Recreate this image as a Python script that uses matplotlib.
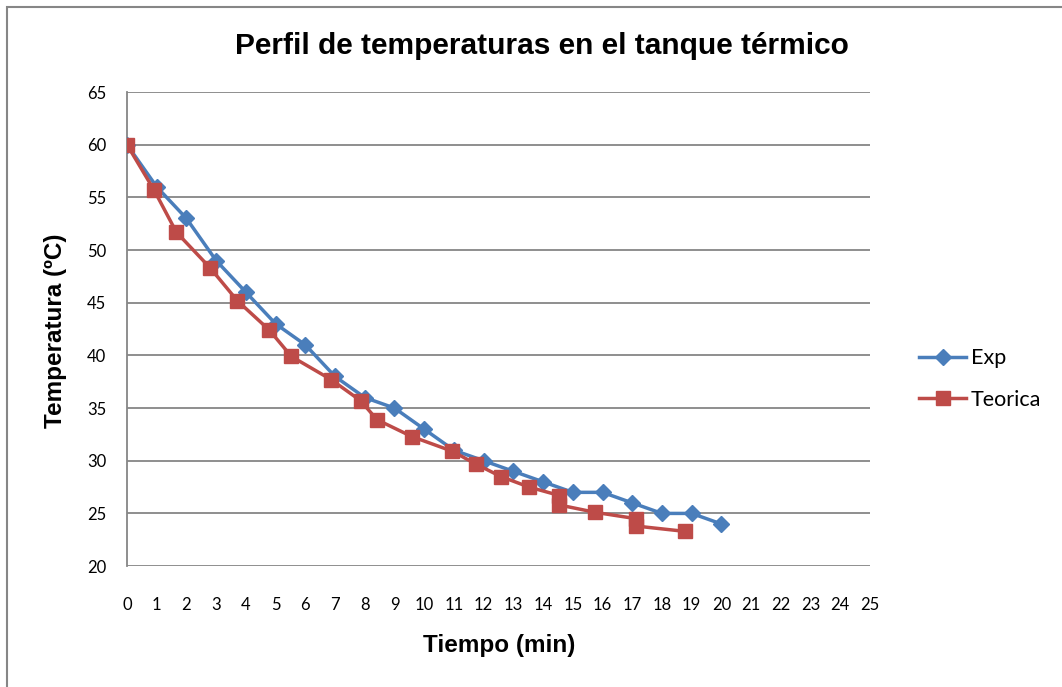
import matplotlib.pyplot as plt
from matplotlib.patches import Rectangle

# Datos experimentales (cada minuto)
t_exp = list(range(0, 21))
temp_exp = [60, 56, 53, 49, 46, 43, 41, 38, 36, 35, 33, 31, 30, 29, 28, 27, 27, 26, 25, 25, 24]

# Curva teórica
t_teo = [0, 0.91, 1.66, 2.80, 3.71, 4.79, 5.53, 6.87, 7.86, 8.41, 9.58, 10.95,
         11.73, 12.58, 13.53, 14.55, 14.55, 15.76, 17.13, 17.13, 18.76]
temp_teo = [60, 55.7, 51.7, 48.3, 45.2, 42.4, 39.9, 37.7, 35.7, 33.9, 32.3, 30.9,
            29.7, 28.5, 27.5, 26.7, 25.8, 25.1, 24.5, 23.8, 23.3]

x_ticks = list(range(0, 26))
y_ticks = list(range(20, 66, 5))

fig = plt.figure(figsize=(10.62, 6.87), dpi=100)
ax = fig.add_axes([0.1196, 0.176, 0.6996, 0.690])

ax.plot(t_exp, temp_exp, color='#4A7EBB', linewidth=2.5, marker='D',
        markersize=8, label='Exp', zorder=3)
ax.plot(t_teo, temp_teo, color='#BE4B48', linewidth=2.5, marker='s',
        markersize=10, label='Teorica', zorder=4)

ax.set_xlim(0, 25)
ax.set_ylim(20, 65)
ax.set_xticks(x_ticks)
ax.set_yticks(y_ticks)
ax.tick_params(axis='both', length=0, labelsize=12)
for lbl in ax.get_xticklabels() + ax.get_yticklabels():
    lbl.set_family('Lato')
ax.tick_params(axis='x', pad=22)
ax.tick_params(axis='y', pad=15)

ax.grid(axis='y', color='#868686', linewidth=1.3)
ax.set_axisbelow(True)
for s in ['top', 'right', 'bottom']:
    ax.spines[s].set_visible(False)
ax.spines['left'].set_color('#868686')
ax.spines['left'].set_linewidth(1.3)

fig.text(0.510, 0.933, 'Perfil de temperaturas en el tanque térmico',
         ha='center', va='center', fontsize=21.5, fontweight='bold',
         family='Liberation Sans')
fig.text(0.470, 0.061, 'Tiempo (min)', ha='center', va='center',
         fontsize=17.5, fontweight='bold', family='Liberation Sans')
fig.text(0.052, 0.518, 'Temperatura (ºC)', ha='center', va='center',
         rotation=90, fontsize=17.5, fontweight='bold', family='Liberation Sans')

leg = ax.legend(loc='center left', bbox_to_anchor=(1.040, 0.395), frameon=False,
                prop={'family': 'Lato', 'size': 15.5}, handlelength=2.2,
                handletextpad=0.2, labelspacing=1.0)

# Borde del área del gráfico
fig.patches.append(Rectangle((7 / 1062, -0.05), 1.1, 1 - 7 / 687 + 0.05,
                             transform=fig.transFigure, fill=False,
                             edgecolor='#868686', linewidth=1.5))

fig.savefig('out.png', dpi=100)
